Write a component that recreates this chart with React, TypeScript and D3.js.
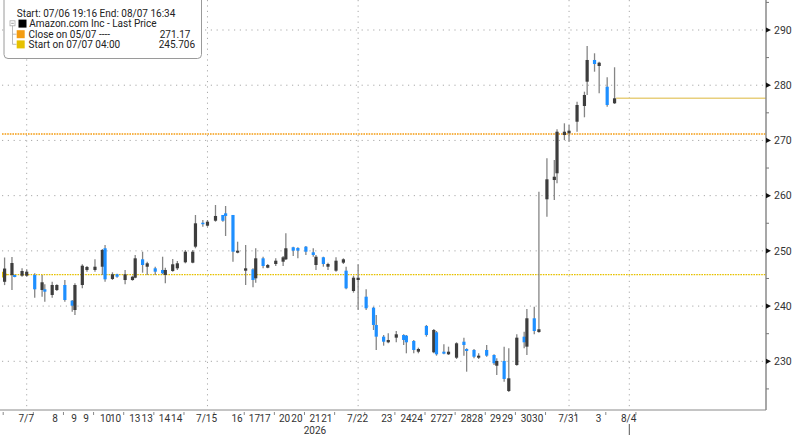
import * as d3 from "d3";

// trading sessions shown on the axis (index = day number)
const days = ["7/6", "7/7", "7/8", "7/9", "7/10", "7/13", "7/14", "7/15", "7/16", "7/17", "7/20",
  "7/21", "7/22", "7/23", "7/24", "7/27", "7/28", "7/29", "7/30", "7/31", "8/3", "8/4"];
// position of each intraday bar inside its session (fraction of a day)
const slotPos = [0, 0.266, 0.511, 0.601, 0.846];
const firstSlot = 1; // series starts on the 2nd bar of 7/6

const open = [
  244.4, 245.6, 245.63, 245.5,
  245.5, 245.63, 242.91, 243.04, 242.01,
  242.91, 243.82, 240.98, 239.29, 243.82,
  246.54, 246.54, 247.13, 250.47, 244.91,
  245.76, 244.72, 244.72, 245.14, 248.47,
  247.13, 246.84, 246.54, 245.63, 246.35,
  246.84, 247.93, 247.86, 250.76, 255.1,
  254.56, 255.46, 256.5, 256.8, 256.5,
  249.67, 246.41, 246.66, 245.03, 248.65,
  246.95, 247.62, 248.04, 248.47, 250.65,
  250.52, 250.76, 249.74, 247.44, 248.84,
  247.13, 246.41, 247.86, 246.41, 242.73,
  244.72, 241.7, 239.71, 236.58, 234.46,
  233.44, 234.28, 234.76, 234.64, 233.68,
  231.74, 236.4, 231.63, 235.25, 231.74,
  231.27, 230.65, 233.55, 232.23, 232.05,
  230.65, 232.05, 231.14, 229.2, 230.06,
  224.62, 229.33, 234.46, 232.65, 237.79,
  235.3, 259.34, 262.83, 264.05, 270.98,
  271.29, 273.39, 276.24, 280.64, 284.57,
  283.48, 279.73, 276.73,
];
const high = [
  248.8, 248.9, 245.7, 246.84,
  246.66, 245.94, 245.63, 243.95, 244.42,
  243.95, 244.72, 241.1, 244.13, 247.57,
  247.26, 248.47, 250.34, 251.06, 246.12,
  245.87, 246.54, 245.5, 249.25, 249.85,
  248.04, 247.13, 248.94, 246.95, 248.53,
  248.17, 250.16, 250.16, 256.5, 255.59,
  255.59, 258.31, 256.5, 258.13, 256.5,
  251.66, 251.06, 246.84, 250.47, 248.94,
  247.62, 248.65, 249.07, 253.18, 250.76,
  250.65, 250.88, 250.47, 249.25, 248.94,
  247.86, 248.84, 248.65, 247.13, 245.5,
  247.57, 243.04, 239.89, 238.39, 234.76,
  235.07, 235.49, 234.89, 234.76, 233.86,
  232.47, 236.58, 235.85, 235.49, 233.08,
  232.65, 233.44, 234.28, 232.36, 232.23,
  231.45, 232.95, 231.27, 230.55, 232.65,
  232.36, 234.89, 235.36, 239.47, 239.89,
  260.72, 266.76, 266.46, 272.02, 273.1,
  272.8, 277.02, 278.83, 287.1, 285.78,
  284.26, 281.43, 283.25,
];
const low = [
  243.8, 242.9, 245.2, 245.32,
  245.32, 241.52, 241.7, 240.8, 241.52,
  242.73, 240.8, 238.98, 238.39, 243.22,
  246.23, 246.23, 245.63, 244.42, 244.72,
  245.14, 243.95, 244.6, 245.03, 246.05,
  245.63, 245.63, 245.76, 244.13, 246.23,
  246.54, 247.75, 247.75, 250.47, 254.38,
  254.38, 255.28, 255.28, 252.69, 248.04,
  249.56, 243.82, 243.4, 244.24, 246.84,
  246.84, 247.26, 247.26, 248.35, 249.07,
  248.65, 249.25, 248.94, 246.54, 247.13,
  246.54, 246.23, 247.62, 243.04, 242.43,
  239.29, 239.29, 235.67, 232.05, 232.83,
  233.26, 233.44, 232.95, 231.45, 231.45,
  231.45, 234.46, 231.45, 231.02, 231.27,
  231.14, 230.42, 231.02, 228.12, 230.55,
  230.42, 230.83, 229.33, 227.52, 226.31,
  224.44, 229.2, 232.36, 231.14, 234.89,
  235.18, 256.19, 259.21, 262.24, 270.08,
  269.77, 271.58, 274.19, 278.23, 282.45,
  278.54, 276.11, 276.6,
];
const close = [
  246.8, 247.8, 245.27, 246.35,
  246.23, 243.04, 244.31, 242.61, 243.82,
  243.82, 241.1, 240.07, 243.82, 247.31,
  247.08, 247.13, 250.16, 244.85, 245.76,
  245.32, 245.76, 245.32, 248.65, 247.44,
  247.75, 246.23, 245.94, 246.54, 247.57,
  247.75, 249.85, 249.85, 254.99, 254.87,
  255.28, 256.32, 255.46, 256.32, 249.85,
  250.03, 246.84, 244.72, 248.65, 247.26,
  247.44, 248.22, 248.84, 250.47, 250.03,
  250.03, 249.85, 249.25, 248.94, 247.62,
  247.62, 248.22, 248.47, 243.22, 245.14,
  245.14, 239.6, 236.58, 234.46, 233.55,
  233.86, 234.89, 233.86, 233.44, 232.05,
  232.23, 234.76, 235.67, 231.27, 231.38,
  231.74, 233.26, 232.95, 231.87, 230.83,
  231.02, 231.02, 229.64, 230.06, 226.8,
  226.92, 234.28, 233.44, 237.79, 235.49,
  235.8, 262.96, 263.43, 271.58, 271.58,
  271.76, 276.42, 278.23, 284.57, 283.84,
  284.08, 276.42, 277.63,
];

// bottom axis labels and where they sit (in day units)
const tickLabels = ["7/7", "8", "9", "9", "10", "10", "13", "13", "14", "14", "7/15", "16", "17", "17",
  "20", "20", "21", "21", "7/22", "23", "24", "24", "27", "27", "28", "28", "29", "29", "30", "30",
  "7/31", "3", "8/4"];
const tickAt = [0.98, 1.94, 2.57, 2.97, 3.62, 3.95, 4.59, 5.0, 5.57, 5.98, 6.97, 7.98, 8.56, 8.91,
  9.56, 9.97, 10.57, 10.96, 11.98, 12.95, 13.59, 13.96, 14.59, 14.96, 15.59, 15.96, 16.56, 16.96,
  17.58, 17.96, 18.99, 19.98, 20.98];
const gridDays = [1, 7, 12, 19, 21];
const priceTicks = [230, 240, 250, 260, 270, 280, 290];
const minorPriceTicks = [225, 235, 245, 255, 265, 275, 285, 295];

const headerText = "Start: 07/06 19:16 End: 08/07 16:34";
const seriesName = "Amazon.com Inc - Last Price";
const refNames = ["Close on 05/07 ----", "Start on 07/07 04:00"];
const refValues = [271.17, 245.706];
const refLabels = ["271.17", "245.706"];
const refColors = ["#f39c12", "#e6c100"];

const W = 800;
const H = 435;
const plotLeft = 2;
const plotRight = 766;
const plotBottom = 410;

const UP = "#3d3d3d";
const DOWN = "#1e8fff";
const WICK = "#858585";
const FONT = "Roboto, 'Noto Sans', sans-serif";

export default function App() {
  const x = d3.scaleLinear().domain([1, 21]).range([26.7, 629.3]);
  const y = d3.scaleLinear().domain([230, 290]).range([361.3, 30]);

  const bars = open.map((o, i) => {
    const k = i + firstSlot;
    return {
      t: Math.floor(k / 5) + slotPos[k % 5],
      o,
      h: high[i],
      l: low[i],
      c: close[i],
    };
  });
  const last = bars[bars.length - 1];
  const bodyW = 3.2;
  const minorX = days.map((_, i) => i + 0.22).filter((t) => x(t) > plotLeft && x(t) < plotRight);

  return (
    <div style={{ position: "fixed", left: 0, top: 0 }}>
      <svg width={W} height={H} style={{ display: "block", background: "#fff" }} fontFamily={FONT}>
        {/* grid */}
        {priceTicks.map((p) => (
          <line key={"h" + p} x1={plotLeft} x2={plotRight} y1={y(p)} y2={y(p)}
            stroke="#a9a9a9" strokeWidth={1} strokeDasharray="1.2 4.6" />
        ))}
        {gridDays.map((d) => (
          <line key={"v" + d} x1={x(d)} x2={x(d)} y1={0} y2={plotBottom}
            stroke="#a9a9a9" strokeWidth={1} strokeDasharray="1.2 4.2" />
        ))}

        {/* reference lines */}
        {refValues.map((v, i) => (
          <line key={"r" + i} x1={plotLeft} x2={plotRight} y1={y(v)} y2={y(v)}
            stroke={refColors[i]} strokeWidth={1.4} strokeDasharray="1.6 1" />
        ))}
        <path d={`M${plotLeft},${y(refValues[1]) - 3.2}L${plotLeft + 6},${y(refValues[1])}L${plotLeft},${y(refValues[1]) + 3.2}Z`}
          fill="#e6c100" />

        {/* candles */}
        {bars.map((b, i) => {
          const cx = x(b.t);
          const top = y(Math.max(b.o, b.c));
          const bot = y(Math.min(b.o, b.c));
          return (
            <g key={"c" + i}>
              <line x1={cx} x2={cx} y1={y(b.h)} y2={y(b.l)} stroke={WICK} strokeWidth={1.3} />
              <rect x={cx - bodyW / 2} y={top} width={bodyW} height={Math.max(1.5, bot - top)}
                fill={b.c >= b.o ? UP : DOWN} />
            </g>
          );
        })}

        {/* last price */}
        <line x1={x(last.t) + 1.5} x2={plotRight} y1={y(last.c)} y2={y(last.c)} stroke="#e8cf7d" strokeWidth={1.5} />

        {/* right axis */}
        <line x1={plotRight} x2={plotRight} y1={0} y2={plotBottom} stroke="#8a8a8a" strokeWidth={1.5} />
        {minorPriceTicks.map((p) => (
          <line key={"m" + p} x1={plotRight} x2={plotRight + 3} y1={y(p)} y2={y(p)} stroke="#777" strokeWidth={1} />
        ))}
        {priceTicks.map((p) => (
          <g key={"t" + p}>
            <path d={`M${plotRight},${y(p) - 2.6}L${plotRight + 5},${y(p)}L${plotRight},${y(p) + 2.6}Z`} fill="#111" />
            <text x={plotRight + 8} y={y(p)} dy="0.36em" fontSize={10.5} fill="#333">{p}</text>
          </g>
        ))}

        {/* bottom axis */}
        <line x1={0} x2={plotRight} y1={plotBottom} y2={plotBottom} stroke="#8a8a8a" strokeWidth={1} />
        {minorX.map((t) => (
          <line key={"mx" + t} x1={x(t)} x2={x(t)} y1={plotBottom + 2} y2={plotBottom + 5} stroke="#888" strokeWidth={1} />
        ))}
        {tickLabels.map((lab, i) => (
          <text key={"xl" + i} x={x(tickAt[i])} y={421.5} textAnchor="middle" fontSize={10} fill="#333">{lab}</text>
        ))}
        <text x={315} y={433.5} textAnchor="middle" fontSize={10} fill="#333">2026</text>
        <line x1={x(21)} x2={x(21)} y1={424} y2={H} stroke="#555" strokeWidth={1} />

        {/* legend */}
        <rect x={4} y={-4} width={197.5} height={62.5} rx={4} fill="#fff" stroke="#9a9a9a" strokeWidth={1} />
        <text x={16.7} y={16.5} fontSize={10} fill="#222">{headerText}</text>
        <rect x={10} y={20.8} width={5} height={5} fill="#fff" stroke="#aaa" strokeWidth={0.8} />
        <line x1={11.2} x2={13.8} y1={23.3} y2={23.3} stroke="#888" strokeWidth={0.8} />
        <path d="M12.5,25.8V44.3H16.5M12.5,34.2H16.5" fill="none" stroke="#aaa" strokeWidth={0.8} />
        <rect x={18.5} y={19.6} width={8} height={8} fill="#000" />
        <text x={29.3} y={27.3} fontSize={10} fill="#222">{seriesName}</text>
        {refNames.map((n, i) => (
          <g key={"lg" + i}>
            <rect x={16.7} y={30.2 + i * 10.2} width={8} height={8} fill={refColors[i]} />
            <text x={28.5} y={37.8 + i * 10.5} fontSize={10} fill="#222">{n}</text>
            <text x={i === 0 ? 190.5 : 195} y={37.8 + i * 10.5} fontSize={10} fill="#222" textAnchor="end">{refLabels[i]}</text>
          </g>
        ))}
      </svg>
    </div>
  );
}
